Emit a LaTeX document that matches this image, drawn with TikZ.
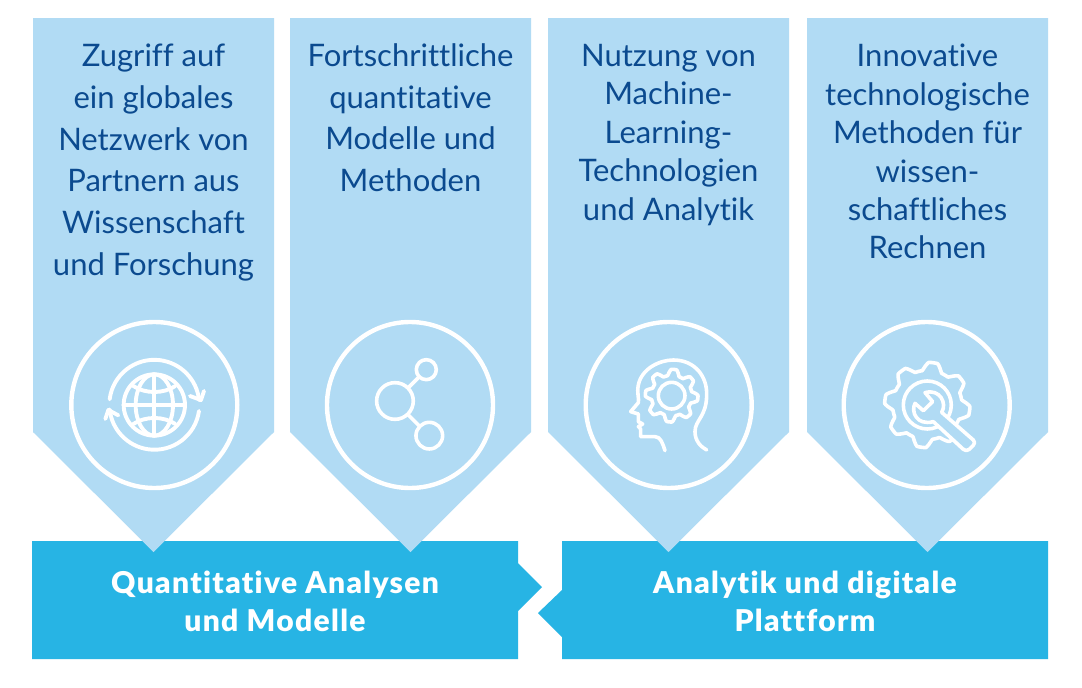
\documentclass[tikz,border=0pt]{standalone}
\usepackage{fontspec}
\setmainfont[Ligatures=NoCommon]{Lato}
\newfontfamily\barfont[Ligatures=NoCommon,LetterSpace=4.4]{Lato Black}
\definecolor{lightb}{HTML}{B1DBF4}
\definecolor{darkb}{HTML}{27B4E4}
\definecolor{navy}{HTML}{0B4A8F}
\tikzset{
  pent/.style={fill=lightb,draw=none},
  bar/.style={fill=darkb,draw=none},
  coltext/.style={text=navy,font=\fontsize{31}{41.7}\selectfont,align=center,anchor=north,inner sep=0pt},
  coltextb/.style={text=navy,font=\fontsize{31}{38.4}\selectfont,align=center,anchor=north,inner sep=0pt},
  bartext/.style={text=white,font=\barfont\fontsize{30}{38}\selectfont,align=center,inner sep=0pt},
  ring/.style={draw=white,line width=4.4pt,fill=none},
  ico/.style={draw=white,line width=3.6pt,line cap=round,line join=round,fill=none},
  icoglobe/.style={ico,line width=3.9pt}
}
\begin{document}
\begin{tikzpicture}[x=1pt,y=-1pt]
\useasboundingbox (0,0) rectangle (1082,688);
\fill[white] (0,0) rectangle (1082,688);
% bars
\fill[bar] (32,541) -- (518,541) -- (518,563) -- (542,587) -- (518,611) -- (518,659) -- (32,659) -- cycle;
\fill[bar] (562,541) -- (1048,541) -- (1048,659) -- (562,659) -- (562,637) -- (538,613) -- (562,590) -- cycle;
% pentagons
\fill[pent] (33,18) -- (274,18) -- (274,432) -- (153.5,552) -- (33,432) -- cycle;
\fill[pent] (290,18) -- (531,18) -- (531,432) -- (410.5,552) -- (290,432) -- cycle;
\fill[pent] (548,18) -- (789,18) -- (789,432) -- (668.5,552) -- (548,432) -- cycle;
\fill[pent] (807,18) -- (1048,18) -- (1048,432) -- (927.5,552) -- (807,432) -- cycle;
% rings
\node[ring,circle,minimum size=166pt,inner sep=0pt] (r1) at (154.3,405) {};
\node[ring,circle,minimum size=166pt,inner sep=0pt] (r2) at (410,405) {};
\node[ring,circle,minimum size=166pt,inner sep=0pt] (r3) at (668.7,405) {};
\node[ring,circle,minimum size=166pt,inner sep=0pt] (r4) at (926.7,405) {};
% texts
\node[coltext] (t1) at (153.5,44) {Zugriff auf\\ein globales\\Netzwerk von\\Partnern aus\\Wissenschaft\\und Forschung};
\node[coltext] (t2) at (410.5,43.5) {Fortschrittliche\\quantitative\\Modelle und\\Methoden};
\node[coltextb] (t3) at (668.5,44) {Nutzung von\\Machine-\\Learning-\\Technologien\\und Analytik};
\node[coltextb] (t4) at (927.5,44) {Innovative\\technologische\\Methoden für\\wissen-\\schaftliches\\Rechnen};
\node[bartext] (b1) at (275,601.5) {Quantitative Analysen\\und Modelle};
\node[bartext] (b2) at (805,601.5) {Analytik und digitale\\Plattform};
% globe
\begin{scope}[shift={(50,310)},x=.3333pt,y=-.3333pt]
\draw[icoglobe] (313,285) circle[radius=92];
\draw[icoglobe] (313,285) ellipse[x radius=56,y radius=92];
\draw[icoglobe] (313,193) -- (313,377) (221,285) -- (405,285);
\draw[icoglobe] (250,228) .. controls (285,252) and (341,252) .. (376,228);
\draw[icoglobe] (250,342) .. controls (285,318) and (341,318) .. (376,342);
\draw[icoglobe] (179,268) arc[start angle=187,end angle=354,radius=135];
\draw[icoglobe] (420,258) -- (453,270) -- (462,243);
\draw[icoglobe] (447,303) arc[start angle=8,end angle=174,radius=135];
\draw[icoglobe] (166,327) -- (175,300) -- (205,316);
\end{scope}
% network
\begin{scope}[shift={(50,310)},x=.3333pt,y=-.3333pt]
\draw[ico] (1035,273) circle[radius=55];
\draw[ico] (1129,179) circle[radius=30];
\draw[ico] (1138,377) circle[radius=40];
\draw[ico] (1075,233) -- (1108,200);
\draw[ico] (1075,315) -- (1108,348);
\end{scope}
% head
\begin{scope}[shift={(570,310)},x=.3333pt,y=-.3333pt]
\draw[ico] (285,422) .. controls (278,400) and (272,380) .. (255,380) -- (212,380) -- (212,358) .. controls (210,352) and (205,350) .. (205,350) -- (218,342) -- (205,335) -- (205,312) -- (182,305) -- (205,278) .. controls (208,265) and (200,250) .. (205,225) .. controls (215,175) and (270,150) .. (310,150) .. controls (375,150) and (412,200) .. (410,255) .. controls (410,320) and (375,330) .. (375,365) .. controls (375,395) and (395,412) .. (410,420);
\draw[ico] (305,257) circle[radius=40];
\draw[ico] plot[domain=0:360,samples=200] ({305+(70+9*max(min(1.5*sin(8*\x+50),1),-1))*cos(\x)},{257+(70+9*max(min(1.5*sin(8*\x+50),1),-1))*sin(\x)}) -- cycle;
\end{scope}
% gear
\begin{scope}[shift={(570,310)},x=.3333pt,y=-.3333pt]
\draw[ico] plot[domain=0:360,samples=260] ({1072+(116+12*max(min(1.5*sin(8*\x+26),1),-1))*cos(\x)},{285+(116+12*max(min(1.5*sin(8*\x+26),1),-1))*sin(\x)}) -- cycle;
\draw[ico] (1072,285) circle[radius=72];
\end{scope}
% wrench
\begin{scope}[shift={(870,350)},x=.3333pt,y=-.3333pt]
\draw[ico,fill=lightb] (165,128) -- (188,155) -- (160,182) -- (135,160) .. controls (122,185) and (140,228) .. (190,215) -- (280,298) .. controls (286,303) and (292,303) .. (298,298) -- (310,286) .. controls (315,280) and (315,276) .. (310,270) -- (215,187) .. controls (232,160) and (210,115) .. (165,128) -- cycle;
\end{scope}
\end{tikzpicture}
\end{document}
